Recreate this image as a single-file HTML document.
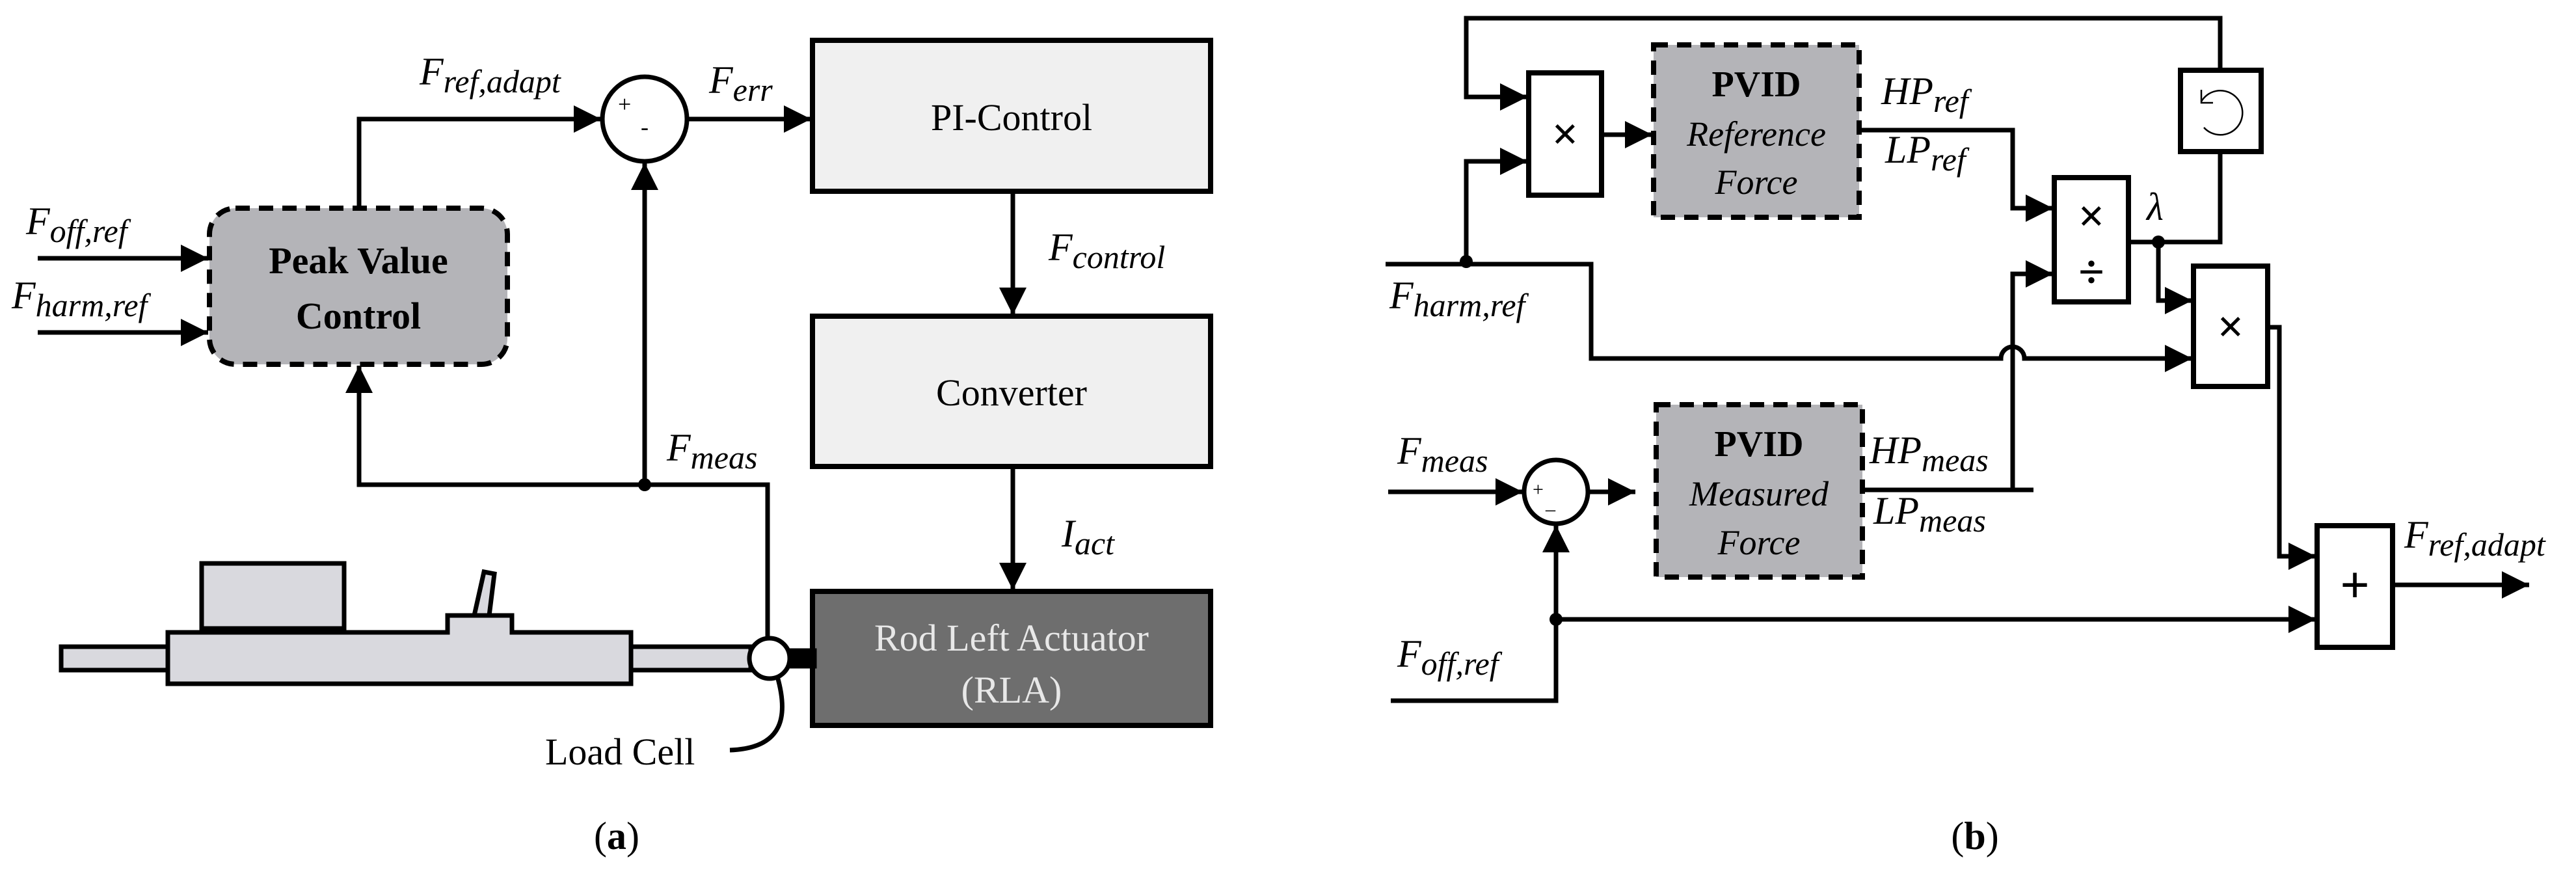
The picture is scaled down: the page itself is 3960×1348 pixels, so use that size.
<!DOCTYPE html>
<html><head><meta charset="utf-8"><style>
html,body{margin:0;padding:0;background:#fff;}
svg{display:block;}
text{font-family:"Liberation Serif",serif;fill:#000;}
.i{font-style:italic;font-size:60px;}
.s{font-size:50px;}
</style></head><body>
<svg width="3960" height="1348" viewBox="0 0 3960 1348" xmlns="http://www.w3.org/2000/svg">
<defs>
<marker id="a" markerUnits="userSpaceOnUse" viewBox="0 0 10 10" markerWidth="46" markerHeight="42" refX="10" refY="5" orient="auto"><path d="M0,0 L10,5 L0,10 z" fill="#000"/></marker>
</defs>
<g fill="none" stroke="#000" stroke-width="7">
<!-- ===== (a) ===== -->
<rect x="1249" y="62" width="612" height="232" fill="#f0f0f0" stroke-width="8"/>
<rect x="1249" y="486" width="612" height="231" fill="#f0f0f0" stroke-width="8"/>
<rect x="1249" y="909" width="612" height="206" fill="#6e6e6e" stroke-width="8"/>
<rect x="322" y="320" width="458" height="240" rx="40" fill="#b4b4b8" stroke-width="8" stroke-dasharray="22 14"/>
<circle cx="991" cy="183" r="65" fill="#fff"/>
<line x1="58" y1="397" x2="320" y2="397" marker-end="url(#a)"/>
<line x1="58" y1="511" x2="320" y2="511" marker-end="url(#a)"/>
<polyline points="552,320 552,183 924,183" marker-end="url(#a)"/>
<line x1="1056" y1="183" x2="1247" y2="183" marker-end="url(#a)"/>
<line x1="1557" y1="294" x2="1557" y2="484" marker-end="url(#a)"/>
<line x1="1557" y1="717" x2="1557" y2="907" marker-end="url(#a)"/>
<line x1="991" y1="745" x2="991" y2="250" marker-end="url(#a)"/>
<polyline points="552,562 552,745 1180,745 1180,980" />
<line x1="552" y1="745" x2="552" y2="562" marker-end="url(#a)"/>
<!-- mechanical -->
<rect x="94" y="994" width="1060" height="36" fill="#d9d9de"/>
<polygon points="258,972 688,972 688,946 787,946 787,972 970,972 970,1051 258,1051" fill="#d9d9de"/>
<polygon points="729,946 744,879 760,882 752,946" fill="#d9d9de"/>
<rect x="310" y="866" width="219" height="100" fill="#d9d9de"/>
<line x1="310" y1="969" x2="529" y2="969" stroke-width="10"/>
<rect x="1212" y="1000" width="40" height="24" fill="#000"/>
<circle cx="1183" cy="1012" r="31" fill="#fff"/>
<path d="M1195,1040 C1212,1100 1205,1150 1122,1153"/>
<!-- ===== (b) ===== -->
<rect x="2350" y="112" width="112" height="188" fill="#fff" stroke-width="8"/>
<rect x="2542" y="69" width="316" height="265" fill="#b4b4b8" stroke-width="8" stroke-dasharray="22 14"/>
<rect x="2546" y="622" width="317" height="265" fill="#b4b4b8" stroke-width="8" stroke-dasharray="22 14"/>
<rect x="3158" y="273" width="114" height="191" fill="#fff" stroke-width="8"/>
<rect x="3352" y="108" width="124" height="125" fill="#fff" stroke-width="8"/>
<rect x="3372" y="409" width="114" height="185" fill="#fff" stroke-width="8"/>
<rect x="3562" y="808" width="116" height="187" fill="#fff" stroke-width="8"/>
<polyline points="3413,108 3413,28 2254,28 2254,149 2348,149" marker-end="url(#a)"/>
<polyline points="2254,402 2254,248 2348,248" marker-end="url(#a)"/>
<path d="M2130,406 L2446,406 L2446,551 L3076,551 A18,18 0 0 1 3112,551 L3370,551" marker-end="url(#a)"/>
<line x1="2462" y1="207" x2="2540" y2="207" marker-end="url(#a)"/>
<polyline points="2858,200 3094,200 3094,320 3156,320" marker-end="url(#a)"/>
<polyline points="2863,753 3126,753"/>
<polyline points="3094,753 3094,421 3156,421" marker-end="url(#a)"/>
<polyline points="3272,372 3413,372 3413,233"/>
<polyline points="3318,372 3318,462 3370,462" marker-end="url(#a)"/>
<polyline points="3486,503 3504,503 3504,855 3560,855" marker-end="url(#a)"/>
<line x1="3678" y1="899" x2="3888" y2="899" marker-end="url(#a)"/>
<circle cx="2392" cy="756" r="49" fill="#fff"/>
<line x1="2134" y1="756" x2="2341" y2="756" marker-end="url(#a)"/>
<line x1="2442" y1="756" x2="2514" y2="756" marker-end="url(#a)"/>
<polyline points="2138,1077 2392,1077 2392,952"/>
<line x1="2392" y1="1077" x2="2392" y2="807" marker-end="url(#a)"/>
<line x1="2392" y1="952" x2="3560" y2="952" marker-end="url(#a)"/>
<path d="M3384,138 L3384,158 L3402,158" stroke-width="2.5"/>
<path d="M3384,156 A34,34 0 1 1 3388,196" stroke-width="2.5"/>
</g>
<g fill="#000">
<circle cx="991" cy="745" r="10"/>
<circle cx="2254" cy="402" r="10"/>
<circle cx="3318" cy="372" r="10"/>
<circle cx="2392" cy="952" r="10"/>
</g>
<!-- text (a) -->
<text x="1555" y="200" font-size="58" text-anchor="middle">PI-Control</text>
<text x="1555" y="623" font-size="58" text-anchor="middle">Converter</text>
<text x="1555" y="1000" font-size="58" text-anchor="middle" style="fill:#e8e8e8">Rod Left Actuator</text>
<text x="1555" y="1080" font-size="58" text-anchor="middle" style="fill:#e8e8e8">(RLA)</text>
<text x="551" y="420" font-size="58" font-weight="bold" text-anchor="middle">Peak Value</text>
<text x="551" y="505" font-size="58" font-weight="bold" text-anchor="middle">Control</text>
<text x="950" y="172" font-size="36">+</text>
<text x="985" y="207" font-size="36">-</text>
<text class="i" x="40" y="360">F<tspan class="s" dy="12">off,ref</tspan></text>
<text class="i" x="18" y="474">F<tspan class="s" dy="12">harm,ref</tspan></text>
<text class="i" x="645" y="130">F<tspan class="s" dy="12">ref,adapt</tspan></text>
<text class="i" x="1090" y="143">F<tspan class="s" dy="12">err</tspan></text>
<text class="i" x="1612" y="400">F<tspan class="s" dy="12">control</tspan></text>
<text class="i" x="1632" y="840">I<tspan class="s" dy="12">act</tspan></text>
<text class="i" x="1025" y="708">F<tspan class="s" dy="12">meas</tspan></text>
<text x="838" y="1175" font-size="58">Load Cell</text>
<text x="948" y="1305" font-size="60" text-anchor="middle">(<tspan font-weight="bold">a</tspan>)</text>
<!-- text (b) -->
<text x="2406" y="230" font-size="72" font-weight="bold" text-anchor="middle">×</text>
<text x="2700" y="148" font-size="56" font-weight="bold" text-anchor="middle">PVID</text>
<text x="2700" y="224" font-size="54" font-style="italic" text-anchor="middle">Reference</text>
<text x="2700" y="298" font-size="54" font-style="italic" text-anchor="middle">Force</text>
<text x="2704" y="701" font-size="56" font-weight="bold" text-anchor="middle">PVID</text>
<text x="2704" y="777" font-size="54" font-style="italic" text-anchor="middle">Measured</text>
<text x="2704" y="852" font-size="54" font-style="italic" text-anchor="middle">Force</text>
<text x="3215" y="356" font-size="72" font-weight="bold" text-anchor="middle">×</text>
<text x="3215" y="442" font-size="72" font-weight="bold" text-anchor="middle">÷</text>
<text x="3429" y="526" font-size="72" font-weight="bold" text-anchor="middle">×</text>
<text x="3620" y="926" font-size="80" font-weight="bold" text-anchor="middle">+</text>
<text x="2356" y="762" font-size="30">+</text>
<text x="2376" y="782" font-size="30">_</text>
<text class="i" x="2892" y="160">HP<tspan class="s" dy="12">ref</tspan></text>
<text class="i" x="2898" y="250">LP<tspan class="s" dy="12">ref</tspan></text>
<text class="i" x="2874" y="712">HP<tspan class="s" dy="12">meas</tspan></text>
<text class="i" x="2880" y="805">LP<tspan class="s" dy="12">meas</tspan></text>
<text class="i" x="3300" y="338">λ</text>
<text class="i" x="2136" y="474">F<tspan class="s" dy="12">harm,ref</tspan></text>
<text class="i" x="2148" y="713">F<tspan class="s" dy="12">meas</tspan></text>
<text class="i" x="2148" y="1025">F<tspan class="s" dy="12">off,ref</tspan></text>
<text class="i" x="3696" y="842">F<tspan class="s" dy="12">ref,adapt</tspan></text>
<text x="3036" y="1305" font-size="60" text-anchor="middle">(<tspan font-weight="bold">b</tspan>)</text>
</svg>
</body></html>
